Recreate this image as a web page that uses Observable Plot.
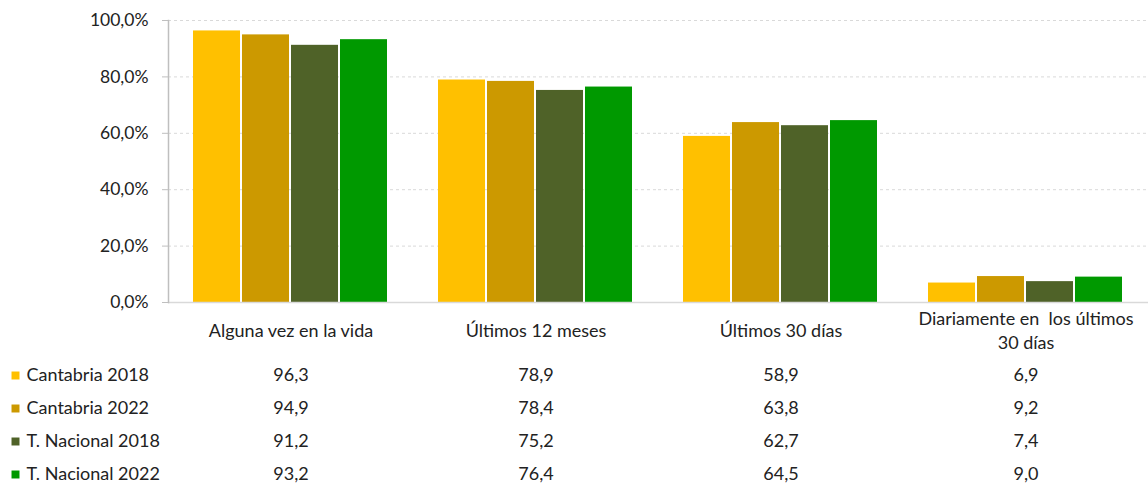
<!DOCTYPE html>
<html><head><meta charset="utf-8">
<script src="https://cdn.jsdelivr.net/npm/d3@7"></script>
<script src="https://cdn.jsdelivr.net/npm/@observablehq/plot@0.6"></script>
<style>
body{margin:0;background:#fff;}
#wrap{width:1148px;height:484px;}
</style></head><body><div id="wrap"></div>
<script>
const categories = ["Alguna vez en la vida", "Últimos 12 meses", "Últimos 30 días", "Diariamente en  los últimos\n30 días"];
const series = ["Cantabria 2018", "Cantabria 2022", "T. Nacional 2018", "T. Nacional 2022"];
const colors = ["#FFC000", "#CC9900", "#4F6228", "#009900"];
const cantabria2018 = [96.3, 78.9, 58.9, 6.9];
const cantabria2022 = [94.9, 78.4, 63.8, 9.2];
const nacional2018 = [91.2, 75.2, 62.7, 7.4];
const nacional2022 = [93.2, 76.4, 64.5, 9.0];
const yTicks = [0, 20, 40, 60, 80, 100];

const values = [cantabria2018, cantabria2022, nacional2018, nacional2022];
const rows = [];
categories.forEach((c, ci) => series.forEach((s, si) => rows.push({cat: c, series: s, value: values[si][ci]})));
const fmt = v => v.toFixed(1).replace(".", ",");
const font = "Lato, 'Open Sans', sans-serif";
const rowDy = [73, 106, 139, 172];
const fs = 18;

const marks = [
  Plot.gridY(yTicks.slice(1), {stroke: "#d9d9d9", strokeOpacity: 1, strokeDasharray: "3,3"}),
  Plot.barY(rows, {fx: "cat", x: "series", y: "value", fill: "series"}),
  Plot.ruleY([0], {stroke: "#d9d9d9", strokeWidth: 1.5}),
  Plot.frame({anchor: "left", facetAnchor: "left", stroke: "#bfbfbf", strokeWidth: 1.5}),
  Plot.axisY(yTicks, {tickFormat: d => fmt(d) + "%", tickSize: 6, tickPadding: 14, stroke: "#bfbfbf", fill: "#222", fontSize: 17.5, label: null}),
  Plot.text(categories, {fx: d => d, text: d => d, frameAnchor: "bottom", dy: 27, lineAnchor: "middle", lineHeight: 1.3, fontSize: fs, fill: "#222"})
];
series.forEach((s, si) => {
  marks.push(Plot.text(categories, {fx: d => d, text: (d, i) => fmt(values[si][i]), frameAnchor: "bottom", dy: rowDy[si], lineAnchor: "middle", fontSize: fs, fill: "#222"}));
  marks.push(Plot.text([s], {fx: () => categories[0], text: d => d, frameAnchor: "bottom-left", dx: -142, dy: rowDy[si], lineAnchor: "middle", textAnchor: "start", fontSize: fs, fill: "#222"}));
  marks.push(Plot.dot([s], {fx: () => categories[0], frameAnchor: "bottom-left", dx: -153, dy: rowDy[si], symbol: "square", r: 4.5, fill: colors[si], stroke: "none"}));
});

const chart = Plot.plot({
  width: 1148, height: 484,
  marginTop: 20, marginBottom: 182, marginLeft: 168, marginRight: 0,
  style: {fontFamily: font, fontSize: "16px", color: "#222", background: "#fff"},
  fx: {domain: categories, padding: 0, axis: null},
  x: {domain: series, paddingInner: 0.04, paddingOuter: 0.52, axis: null},
  y: {domain: [0, 100], axis: null},
  color: {domain: series, range: colors},
  marks
});
document.getElementById("wrap").append(chart);
</script></body></html>
